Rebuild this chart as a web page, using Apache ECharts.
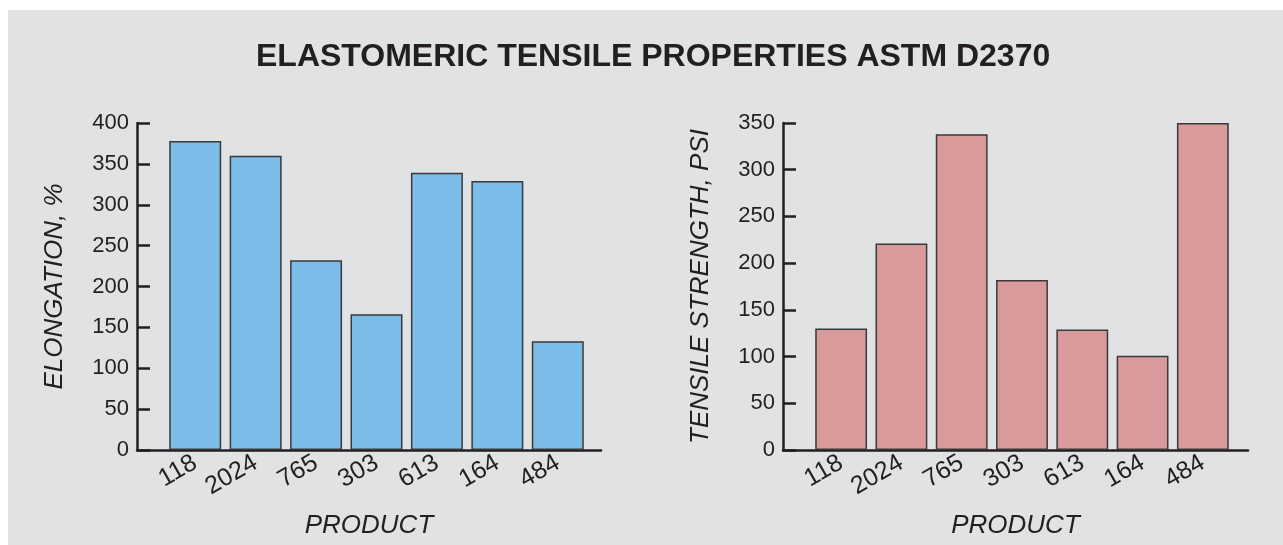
<!DOCTYPE html>
<html>
<head>
<meta charset="utf-8">
<script src="https://cdn.jsdelivr.net/npm/echarts@6/dist/echarts.min.js"></script>
<style>
html,body{margin:0;padding:0;background:#ffffff;width:1283px;height:545px;overflow:hidden;}
#chart{position:absolute;left:8px;top:10px;width:1275px;height:535px;}
</style>
</head>
<body>
<div id="chart"></div>
<script>
const titleText = 'ELASTOMERIC TENSILE PROPERTIES ASTM D2370';
const products = ['118', '2024', '765', '303', '613', '164', '484'];
const elongation = [378, 360, 232, 166, 339, 329, 133];
const tensileStrength = [130, 221, 338, 182, 129, 101, 350];
const elongationTicks = { min: 0, max: 400, interval: 50 };
const strengthTicks = { min: 0, max: 350, interval: 50 };
const xAxisTitle = 'PRODUCT';
const leftAxisTitle = 'ELONGATION, %';
const rightAxisTitle = 'TENSILE STRENGTH, PSI';

const ink = '#231f20';
const font = 'Liberation Sans, Arial, Helvetica, sans-serif';
const chart = echarts.init(document.getElementById('chart'));

function valueAxis(gridIndex, ticks, name) {
  return {
    type: 'value', gridIndex: gridIndex, min: ticks.min, max: ticks.max, interval: ticks.interval,
    offset: 28,
    name: name, nameLocation: 'middle', nameGap: 69, nameRotate: 90,
    nameTextStyle: { color: ink, fontSize: 26, fontStyle: 'italic', fontFamily: font },
    axisLine: { show: true, lineStyle: { color: ink, width: 2.5 } },
    axisTick: { show: true, inside: true, length: 13, lineStyle: { color: ink, width: 2.5 } },
    axisLabel: { color: ink, fontSize: 22, fontFamily: font, margin: 8 },
    splitLine: { show: false }
  };
}
function catAxis(gridIndex) {
  return {
    type: 'category', gridIndex: gridIndex, data: products,
    axisLine: { show: false }, axisTick: { show: false },
    axisLabel: { color: ink, fontSize: 25, fontFamily: font, rotate: 30, margin: 11, interval: 0 }
  };
}
function baseAxis(gridIndex) {
  return {
    type: 'value', gridIndex: gridIndex, min: 0, max: 1, position: 'bottom',
    name: xAxisTitle, nameLocation: 'middle', nameGap: 63,
    nameTextStyle: { color: ink, fontSize: 26, fontStyle: 'italic', fontFamily: font },
    axisLine: { show: true, onZero: false, lineStyle: { color: ink, width: 2.5 } },
    axisTick: { show: false }, axisLabel: { show: false }, splitLine: { show: false }
  };
}
function hiddenY(gridIndex) {
  return { type: 'value', gridIndex: gridIndex, min: 0, max: 1, show: false };
}

chart.setOption({
  animation: false,
  backgroundColor: '#e1e2e4',
  title: {
    text: titleText, left: 243, top: 26,
    textStyle: { color: ink, fontSize: 32, fontWeight: 'bold', fontFamily: font }
  },
  grid: [
    { left: 157, top: 113, width: 423, height: 327, outerBoundsMode: 'none', containLabel: false },
    { left: 129, top: 113, width: 464, height: 327, outerBoundsMode: 'none', containLabel: false },
    { left: 803, top: 113, width: 422, height: 327, outerBoundsMode: 'none', containLabel: false },
    { left: 775, top: 113, width: 465, height: 327, outerBoundsMode: 'none', containLabel: false }
  ],
  xAxis: [catAxis(0), baseAxis(1), catAxis(2), baseAxis(3)],
  yAxis: [
    valueAxis(0, elongationTicks, leftAxisTitle),
    hiddenY(1),
    valueAxis(2, strengthTicks, rightAxisTitle),
    hiddenY(3)
  ],
  series: [
    {
      type: 'bar', xAxisIndex: 0, yAxisIndex: 0, data: elongation, barCategoryGap: '14%',
      itemStyle: { color: '#7bbde8', borderColor: '#3a3a3a', borderWidth: 1.5 }
    },
    {
      type: 'bar', xAxisIndex: 2, yAxisIndex: 2, data: tensileStrength, barCategoryGap: '14%',
      itemStyle: { color: '#d89a9a', borderColor: '#3a3a3a', borderWidth: 1.5 }
    }
  ]
});
</script>
</body>
</html>
